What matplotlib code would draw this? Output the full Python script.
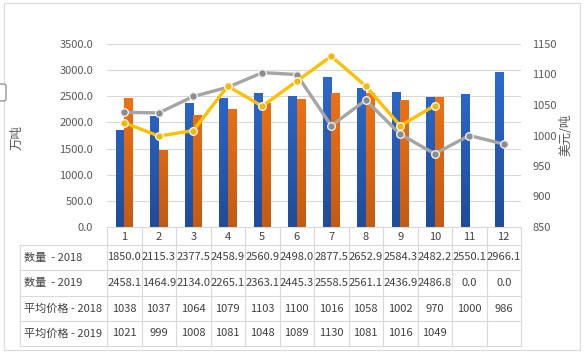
import matplotlib
matplotlib.use("Agg")
import matplotlib.pyplot as plt
import numpy as np
from matplotlib.transforms import blended_transform_factory
from matplotlib.lines import Line2D
from matplotlib.patches import Rectangle, FancyBboxPatch
from matplotlib.colors import LinearSegmentedColormap

plt.rcParams['font.family'] = ['Noto Sans CJK SC', 'DejaVu Sans']

months = list(range(1, 13))
qty_2018 = [1850.0, 2115.3, 2377.5, 2458.9, 2560.9, 2498.0, 2877.5, 2652.9, 2584.3, 2482.2, 2550.1, 2966.1]
qty_2019 = [2458.1, 1464.9, 2134.0, 2265.1, 2363.1, 2445.3, 2558.5, 2561.1, 2436.9, 2486.8, 0.0, 0.0]
price_2018 = [1038, 1037, 1064, 1079, 1103, 1100, 1016, 1058, 1002, 970, 1000, 986]
price_2019 = [1021, 999, 1008, 1081, 1048, 1089, 1130, 1081, 1016, 1049]
row_labels = ["数量  - 2018", "数量  - 2019", "平均价格 - 2018", "平均价格 - 2019"]

W, H = 584, 353
fig = plt.figure(figsize=(W / 100, H / 100), dpi=100)
fig.patch.set_facecolor('white')

def fy(py):
    return 1 - py / H

def fx(px):
    return px / W

ax_l, ax_r, ax_t, ax_b = 107, 521, 44, 227
ax = fig.add_axes([fx(ax_l), fy(ax_b), fx(ax_r) - fx(ax_l), fy(ax_t) - fy(ax_b)])
ax.set_xlim(0.5, 12.5)
ax.set_ylim(0, 3500)
ax.set_yticks(np.arange(0, 3501, 500))
ax.set_yticklabels([f"{v:.1f}" for v in np.arange(0, 3501, 500)])
ax.set_xticks([])
for s in ax.spines.values():
    s.set_visible(False)
ax.grid(axis='y', color='#D9D9D9', linewidth=0.8)
ax.set_axisbelow(True)
ax.tick_params(axis='y', length=0, labelsize=8, labelcolor='#595959', pad=10)

text_color = '#404040'
bw = 0.25
x = np.array(months)
bars1 = ax.bar(x - bw / 2, qty_2018, width=bw, color='#2E6FD6', zorder=2)
bars2 = ax.bar(x + bw / 2, qty_2019, width=bw, color='#F57A1A', zorder=2)

cm_blue = LinearSegmentedColormap.from_list('b', ['#1F4C9A', '#2F70DA'])
cm_orng = LinearSegmentedColormap.from_list('o', ['#C45A12', '#FF7A14'])
grad = np.linspace(0, 1, 256).reshape(-1, 1)
for bars, cm in ((bars1, cm_blue), (bars2, cm_orng)):
    for b in bars:
        if b.get_height() <= 0:
            continue
        x0, w, h = b.get_x(), b.get_width(), b.get_height()
        im = ax.imshow(grad, extent=[x0, x0 + w, 0, 3500], origin='lower',
                       cmap=cm, aspect='auto', zorder=2.1)
        im.set_clip_path(b)
ax.set_xlim(0.5, 12.5)
ax.set_ylim(0, 3500)

ax2 = ax.twinx()
ax2.set_ylim(850, 1150)
ax2.set_yticks(np.arange(850, 1151, 50))
for s in ax2.spines.values():
    s.set_visible(False)
ax2.tick_params(axis='y', length=0, labelsize=8, labelcolor='#595959', pad=8)
ax2.plot(months, price_2018, color='#A5A5A5', linewidth=2.4, marker='o', markersize=5.5,
         markerfacecolor='#8C8C8C', markeredgecolor='#EEEEEE', markeredgewidth=1, zorder=3)
ax2.plot(months[:len(price_2019)], price_2019, color='#FFC000', linewidth=2.4, marker='o', markersize=5.5,
         markerfacecolor='#F2BA00', markeredgecolor='#F5F5F5', markeredgewidth=1, zorder=4)

fig.text(fx(17), fy(138), "万吨", rotation=90, ha='center', va='center', fontsize=9, color='#595959')
fig.text(fx(566), fy(135), "美元/吨", rotation=90, ha='center', va='center', fontsize=9, color='#595959')

# data table
tr = blended_transform_factory(ax.transData, fig.transFigure)
line_c = '#D9D9D9'
row_edges = [245, 270, 296, 321, 346]
tab_left = 20
fig.add_artist(Line2D([fx(ax_l), fx(ax_r)], [fy(ax_b), fy(ax_b)], color=line_c, lw=0.8))
for ry in row_edges:
    fig.add_artist(Line2D([fx(tab_left), fx(ax_r)], [fy(ry), fy(ry)], color=line_c, lw=0.8))
for xe in np.arange(0.5, 13, 1.0):
    ax.add_artist(Line2D([xe, xe], [fy(ax_b), fy(346)], color=line_c, lw=0.8,
                         transform=tr, clip_on=False))
fig.add_artist(Line2D([fx(tab_left), fx(tab_left)], [fy(245), fy(346)], color=line_c, lw=0.8))

for m in months:
    ax.text(m, fy(237), str(m), transform=tr, ha='center', va='center', fontsize=8, color=text_color)

rows = [
    [f"{v:.1f}" for v in qty_2018],
    [f"{v:.1f}" for v in qty_2019],
    [str(v) for v in price_2018],
    [str(v) for v in price_2019] + [""] * (12 - len(price_2019)),
]
centers = [(row_edges[i] + row_edges[i + 1]) / 2 for i in range(4)]
for lbl, vals, cy in zip(row_labels, rows, centers):
    fig.text(fx(24), fy(cy), lbl, ha='left', va='center', fontsize=8, color=text_color)
    for m, v in zip(months, vals):
        ax.text(m, fy(cy), v, transform=tr, ha='center', va='center', fontsize=8, color=text_color)

# outer chart border and small artifact box
fig.add_artist(Rectangle((fx(4), fy(350)), fx(580) - fx(4), fy(3) - fy(350),
                         fill=False, edgecolor='#D9D9D9', lw=0.8))
fig.add_artist(FancyBboxPatch((fx(-3), fy(101)), fx(9), fy(84) - fy(101),
                              boxstyle='round,pad=0,rounding_size=0.005',
                              facecolor='white', edgecolor='#7F7F7F', lw=0.8))

fig.savefig('out.png', dpi=100)
